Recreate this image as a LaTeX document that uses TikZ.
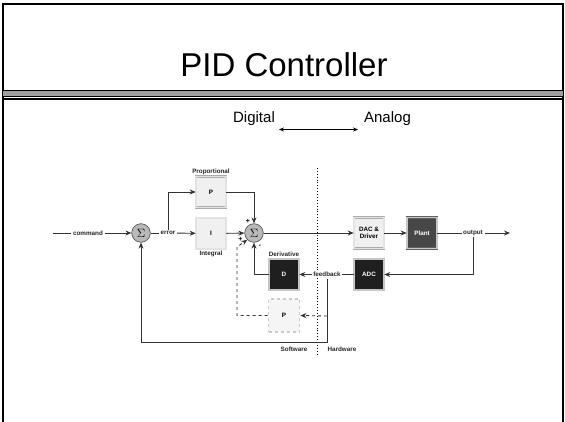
\documentclass[tikz,border=0pt]{standalone}
\usepackage{fontspec}
\setmainfont{Liberation Sans}
\usepackage{tikz}
\usetikzlibrary{arrows.meta,shapes}

\begin{document}
\begin{tikzpicture}[x=1pt,y=-1pt,>={Stealth[length=6pt,width=5pt]},
 wire/.style={draw=black!80,line width=0.9pt},
 lbl/.style={font=\fontsize{6.3}{7}\selectfont\bfseries,inner sep=1.5pt,text=black!85},
 onl/.style={lbl,fill=white},
 lightbox/.style={draw=gray!65,double=gray!22,double distance=1.4pt,line width=0.6pt,fill=gray!12,
  minimum width=30pt,minimum height=31pt,font=\fontsize{6.3}{7.5}\selectfont\bfseries,align=center},
 darkbox/.style={lightbox,draw=gray!75!black,double=gray!45,fill=black!88,text=white},
 dashbox/.style={lightbox,double=none,draw=gray!40,dashed,line width=1.8pt,fill=gray!8,
  minimum width=31pt,minimum height=33pt},
 sumnode/.style={circle,draw=gray!55!black,line width=0.6pt,fill=gray!55,minimum size=18.6pt,inner sep=0pt,
  font=\fontsize{12}{12}\selectfont},
 sgn/.style={font=\fontsize{7}{7}\selectfont\bfseries,inner sep=0pt}]
\useasboundingbox (0,0) rectangle (565,422);
\draw[line width=2pt] (3,423) -- (3,4.5) -- (563,4.5) -- (563,423);
\fill[gray!75] (3,91) rectangle (563,95.6);
\draw[line width=1pt] (3,90.5) -- (563,90.5);
\draw[line width=1pt] (3,96.3) -- (563,96.3);
\draw[line width=2.4pt] (3,99.2) -- (563,99.2);
\node[anchor=base,font=\fontsize{33}{36}\selectfont] (title) at (284,76.7) {PID Controller};
\node[anchor=base,font=\fontsize{15}{17}\selectfont] (digital) at (254,122.7) {Digital};
\node[anchor=base,font=\fontsize{15}{17}\selectfont] (analog) at (387.5,122.7) {Analog};
\coordinate (dl) at (279,129.5);
\coordinate (dr) at (358,129.5);
\draw[<->,>={Stealth[length=5pt,width=4pt]},line width=0.9pt] (dl) -- (dr);
%% digital / analog split
\coordinate (splittop) at (317,168);
\coordinate (splitbot) at (317,356);
\draw[dotted,line width=0.9pt] (splittop) -- (splitbot);
\node[lbl] (sw) at (294,349) {Software};
\node[lbl] (hw) at (342,349) {Hardware};
%% blocks
\node[sumnode] (sum1) at (141,233) {$\Sigma$};
\node[sumnode] (sum2) at (254,233) {$\Sigma$};
\node[lightbox] (prop) at (211,192) {P};
\node[lightbox] (integ) at (211,233.5) {I};
\node[lightbox] (dac) at (369,233) {DAC \&\\Driver};
\node[darkbox,fill=black!72] (plant) at (422,233) {Plant};
\node[darkbox] (adc) at (369,274.5) {ADC};
\node[darkbox] (deriv) at (284,274.5) {D};
\node[dashbox] (prop2) at (284,315.5) {P};
\node[lbl,above] (proplbl) at (prop.north) {Proportional};
\node[lbl,below] (intlbl) at (integ.south) {Integral};
\node[lbl,above] (derlbl) at (deriv.north) {Derivative};
\node[sgn] (plus1) at (248,221) {+};
\node[sgn] (plus2) at (240.5,239.5) {+};
\node[sgn] (minus1) at (260,246) {-};
%% forward path
\coordinate (start) at (53,233);
\node[onl] (cmd) at (88,233) {command};
\node[onl] (err) at (168,233) {error};
\node[onl] (out) at (473,233) {output};
\coordinate (outend) at (510,233);
\draw[wire] (start) -- (cmd);
\draw[wire,->] (cmd) -- (sum1);
\draw[wire] (sum1) -- (err);
\draw[wire,->] (err) -- (integ);
\draw[wire,->] (err.north) |- (prop.west);
\draw[wire,->] (prop.east) -| (sum2.north);
\draw[wire,->] (integ) -- (sum2);
\draw[wire,->] (sum2) -- (dac);
\draw[wire,->] (dac) -- (plant);
\draw[wire] (plant) -- (out);
\draw[wire,->] (out) -- (outend);
%% feedback
\node[onl] (fb) at (327,274.5) {feedback};
\coordinate (fbdown) at (327,342);
\coordinate (fbdash) at (327,316);
\coordinate (dashup) at (237,247);
\draw[wire,->] (out.south) |- (adc.east);
\draw[wire] (adc) -- (fb);
\draw[wire,->] (fb) -- (deriv);
\draw[wire,->] (deriv.west) -| (sum2.south);
\draw[wire,->] (fb.south) -- (fbdown) -| (sum1.south);
\draw[wire,dashed,->] (fbdash) -- (prop2.east);
\draw[wire,dashed,->] (prop2.west) -| (dashup) -- (sum2.south west);
\end{tikzpicture}
\end{document}
